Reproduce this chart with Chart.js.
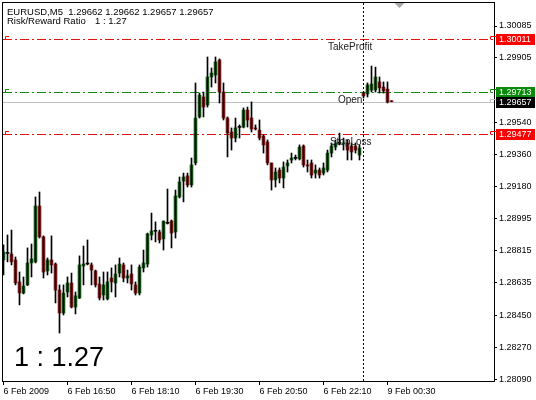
<!DOCTYPE html>
<html><head><meta charset="utf-8">
<script src="https://cdn.jsdelivr.net/npm/chart.js@4/dist/chart.umd.min.js"></script>
<style>html,body{margin:0;padding:0;background:#fff;}#wrap{width:536px;height:400px;position:relative}</style>
</head><body><div id="wrap"><canvas id="c" width="536" height="400"></canvas></div>
<script>
const symbol = 'EURUSD,M5';
const lastQuote = [1.29662, 1.29662, 1.29657, 1.29657];
const ratioLabel = 'Risk/Reward Ratio';
const ratioText = '1 : 1.27';

const openP = [
1.28763,1.28802,1.28797,1.28763,1.28639,1.28576,1.28622,1.28746,1.28752,1.29068,
1.28893,1.28701,1.28763,1.28740,1.28593,1.28463,1.28582,1.28633,1.28497,1.28548,
1.28729,1.28740,1.28735,1.28701,1.28627,1.28565,1.28543,1.28661,1.28633,1.28689,
1.28735,1.28661,1.28684,1.28622,1.28576,1.28718,1.28740,1.28904,1.28927,1.28921,
1.28882,1.28972,1.28983,1.28921,1.29119,1.29209,1.29238,1.29187,1.29311,1.29571,
1.29684,1.29639,1.29797,1.29808,1.29893,1.29712,1.29565,1.29486,1.29452,1.29514,
1.29514,1.29610,1.29565,1.29509,1.29497,1.29463,1.29430,1.29311,1.29215,1.29271,
1.29226,1.29294,1.29328,1.29339,1.29334,1.29407,1.29300,1.29311,1.29254,1.29271,
1.29254,1.29271,1.29367,1.29401,1.29424,1.29418,1.29424,1.29407,1.29407,1.29356,
1.29706,1.29701,1.29723,1.29723,1.29769,1.29740,1.29729,1.29662];
const highP = [
1.28848,1.28904,1.28932,1.28780,1.28695,1.28667,1.28831,1.28853,1.29119,1.29147,
1.28899,1.28774,1.28899,1.28746,1.28622,1.28622,1.28667,1.28689,1.28582,1.28786,
1.28842,1.28876,1.28746,1.28706,1.28667,1.28695,1.28695,1.28718,1.28735,1.28774,
1.28746,1.28706,1.28735,1.28639,1.28735,1.28819,1.28915,1.29028,1.28978,1.28932,
1.28983,1.29164,1.28989,1.29158,1.29232,1.29254,1.29254,1.29339,1.29763,1.29706,
1.29712,1.29910,1.29848,1.29910,1.29899,1.29763,1.29571,1.29509,1.29565,1.29526,
1.29622,1.29627,1.29656,1.29526,1.29554,1.29469,1.29441,1.29311,1.29283,1.29283,
1.29317,1.29328,1.29367,1.29356,1.29413,1.29413,1.29328,1.29328,1.29300,1.29283,
1.29311,1.29384,1.29424,1.29441,1.29480,1.29452,1.29441,1.29424,1.29424,1.29413,
1.29712,1.29763,1.29859,1.29853,1.29797,1.29769,1.29769,1.29662];
const lowP = [
1.28678,1.28752,1.28735,1.28622,1.28509,1.28571,1.28618,1.28667,1.28746,1.28887,
1.28661,1.28678,1.28689,1.28520,1.28350,1.28452,1.28554,1.28492,1.28458,1.28545,
1.28622,1.28735,1.28622,1.28610,1.28537,1.28537,1.28537,1.28582,1.28554,1.28667,
1.28639,1.28633,1.28593,1.28565,1.28565,1.28695,1.28723,1.28876,1.28865,1.28859,
1.28819,1.28966,1.28831,1.28887,1.29113,1.29091,1.29175,1.29175,1.29300,1.29565,
1.29571,1.29627,1.29740,1.29763,1.29650,1.29554,1.29345,1.29384,1.29430,1.29452,
1.29509,1.29514,1.29486,1.29497,1.29441,1.29367,1.29300,1.29158,1.29175,1.29198,
1.29170,1.29260,1.29311,1.29328,1.29328,1.29288,1.29260,1.29226,1.29226,1.29226,
1.29243,1.29260,1.29345,1.29384,1.29413,1.29384,1.29328,1.29328,1.29367,1.29328,
1.29678,1.29684,1.29712,1.29712,1.29706,1.29706,1.29650,1.29657];
const closeP = [
1.28808,1.28800,1.28752,1.28633,1.28576,1.28616,1.28746,1.28769,1.29068,1.28893,
1.28695,1.28763,1.28735,1.28593,1.28463,1.28576,1.28633,1.28497,1.28560,1.28735,
1.28740,1.28742,1.28706,1.28622,1.28548,1.28622,1.28639,1.28639,1.28684,1.28740,
1.28661,1.28673,1.28627,1.28576,1.28723,1.28746,1.28910,1.28927,1.28925,1.28876,
1.28983,1.28970,1.28915,1.29125,1.29204,1.29232,1.29187,1.29300,1.29565,1.29695,
1.29627,1.29797,1.29819,1.29882,1.29712,1.29565,1.29480,1.29452,1.29509,1.29512,
1.29610,1.29554,1.29503,1.29503,1.29452,1.29413,1.29311,1.29215,1.29260,1.29226,
1.29288,1.29311,1.29339,1.29337,1.29401,1.29300,1.29294,1.29243,1.29271,1.29243,
1.29283,1.29367,1.29407,1.29424,1.29422,1.29424,1.29384,1.29373,1.29384,1.29396,
1.29690,1.29752,1.29757,1.29797,1.29735,1.29718,1.29656,1.29657];

const tickIndex = [0, 16, 32, 48, 64, 80, 96];
const tickLabels = ['6 Feb 2009','6 Feb 16:50','6 Feb 18:10','6 Feb 19:30','6 Feb 20:50','6 Feb 22:10','9 Feb 00:30'];
const priceTicks = [1.30085,1.29905,1.29540,1.29360,1.29180,1.28995,1.28815,1.28635,1.28450,1.28270,1.28090];

const takeProfit = 1.30011, openPrice = 1.29713, bidPrice = 1.29657, stopLoss = 1.29477;
const separatorIndex = 90;
const shiftIndex = 99;
const levelLabels = [
  {text:'TakeProfit', k:81.1, price:takeProfit},
  {text:'Open', k:83.6, price:openPrice},
  {text:'StopLoss', k:81.6, price:stopLoss}
];

Chart.defaults.font.family = "'Liberation Sans', Arial, sans-serif";
Chart.defaults.color = '#000';

const idx = openP.map((_, i) => i);
const bodyColor = idx.map(i => Math.abs(closeP[i]-openP[i]) < 0.000025 ? '#000000' : (closeP[i] > openP[i] ? '#1f6e1f' : '#9c2424'));

const levels = [[takeProfit, '#e01212'], [stopLoss, '#e01212'], [openPrice, '#138a13']];

const overlay = {
  id: 'overlay',
  beforeDatasetsDraw(chart) {
    const {ctx, chartArea: a, scales: {x, y}} = chart;
    ctx.save();
    ctx.beginPath(); ctx.rect(a.left, a.top, a.right - a.left, a.bottom - a.top); ctx.clip();
    const hline = (v, col, dash) => {
      const py = Math.round(y.getPixelForValue(v)) + 0.5;
      ctx.strokeStyle = col; ctx.lineWidth = 1; ctx.setLineDash(dash);
      ctx.beginPath(); ctx.moveTo(a.left, py); ctx.lineTo(a.right, py); ctx.stroke();
    };
    hline(bidPrice, '#c0c0c0', []);
    levels.forEach(([v, c]) => hline(v, c, [9, 3, 2, 3]));
    // left-edge markers
    ctx.setLineDash([]);
    levels.forEach(([v, c]) => {
      const py = Math.round(y.getPixelForValue(v));
      ctx.strokeStyle = c; ctx.beginPath();
      ctx.moveTo(a.left + 2.5, py + 0.5); ctx.lineTo(a.left + 2.5, py - 2.5); ctx.lineTo(a.left + 6, py - 2.5); ctx.stroke();
    });
    const sx = Math.floor(x.getPixelForValue(separatorIndex)) + 0.5;
    ctx.strokeStyle = '#000'; ctx.setLineDash([2, 2]);
    ctx.beginPath(); ctx.moveTo(sx, a.top); ctx.lineTo(sx, a.bottom); ctx.stroke();
    ctx.restore();
  },
  afterDraw(chart) {
    const {ctx, chartArea: a, scales: {x, y}} = chart;
    ctx.save();
    ctx.strokeStyle = '#000'; ctx.lineWidth = 1; ctx.setLineDash([]);
    ctx.strokeRect(a.left - 0.5, a.top - 0.5, a.right - a.left + 1, a.bottom - a.top + 1);
    const tx = x.getPixelForValue(shiftIndex);
    ctx.fillStyle = '#a8a8a8';
    ctx.beginPath(); ctx.moveTo(tx - 5, a.top); ctx.lineTo(tx + 5, a.top); ctx.lineTo(tx, a.top + 5); ctx.closePath(); ctx.fill();
    ctx.fillStyle = '#000'; ctx.font = "9.5px 'Liberation Sans', Arial";
    ctx.textBaseline = 'alphabetic'; ctx.textAlign = 'left';
    ctx.fillText(symbol + '  ' + lastQuote.map(v => v.toFixed(5)).join(' '), 7, 15);
    ctx.fillText(ratioLabel, 7, 24);
    ctx.fillText(ratioText, 95, 24);
    ctx.fillStyle = '#222'; ctx.textBaseline = 'top'; ctx.font = "10px 'Liberation Sans', Arial";
    levelLabels.forEach(l => {
      ctx.fillText(l.text, x.getPixelForValue(l.k), Math.round(y.getPixelForValue(l.price)) + 3);
    });
    ctx.fillStyle = '#000'; ctx.font = "27px 'Liberation Sans', Arial"; ctx.textBaseline = 'alphabetic';
    ctx.fillText(ratioText, 14, 366);
    ctx.font = "9px 'Liberation Sans', Arial"; ctx.textBaseline = 'middle';
    [[openPrice, '#0a8a0a'], [bidPrice, '#000000'], [takeProfit, '#ff0000'], [stopLoss, '#ff0000']].forEach(([v, bg]) => {
      const py = Math.round(y.getPixelForValue(v));
      ctx.fillStyle = bg; ctx.fillRect(a.right + 2, py - 5, 39, 11);
      ctx.fillStyle = '#fff'; ctx.fillText(v.toFixed(5), a.right + 5, py + 0.5);
      ctx.strokeStyle = bg === '#000000' ? '#c0c0c0' : bg; ctx.beginPath();
      ctx.moveTo(a.right - 3.5, py + 0.5); ctx.lineTo(a.right - 3.5, py - 2.5); ctx.lineTo(a.right + 2, py - 2.5); ctx.stroke();
    });
    ctx.restore();
  }
};

new Chart(document.getElementById('c'), {
  type: 'bar',
  data: {
    datasets: [
      { label: 'wick', data: idx.map(i => ({x: i, y: [lowP[i], highP[i]]})), backgroundColor: '#000', barThickness: 1, grouped: false, minBarLength: 1, borderWidth: 0 },
      { label: 'body', data: idx.map(i => ({x: i, y: [openP[i], closeP[i]]})), backgroundColor: bodyColor, barThickness: 3, grouped: false, minBarLength: 1, borderWidth: 0 }
    ]
  },
  options: {
    responsive: false, animation: false, events: [],
    layout: { padding: { left: 3, top: 3, right: 0, bottom: 0 } },
    plugins: { legend: { display: false }, tooltip: { enabled: false } },
    scales: {
      x: {
        type: 'linear', offset: false, min: -0.125, max: 122.625,
        grid: { display: true, drawOnChartArea: false, drawTicks: true, tickLength: 4, color: '#000', offset: false },
        border: { display: false },
        afterBuildTicks: s => { s.ticks = tickIndex.map(v => ({value: v})); },
        ticks: { align: 'start', maxRotation: 0, autoSkip: false, padding: 1, font: { size: 9 }, color: '#000',
          callback: (v) => tickLabels[tickIndex.indexOf(v)] },
        afterFit: s => { s.height = 19; s.paddingLeft = 0; s.paddingRight = 0; }
      },
      y: {
        type: 'linear', position: 'right', min: 1.28079, max: 1.30215,
        grid: { display: true, drawOnChartArea: false, drawTicks: true, tickLength: 3, color: '#000' },
        border: { display: false },
        afterBuildTicks: s => { s.ticks = priceTicks.map(v => ({value: v})); },
        ticks: { padding: 2, font: { size: 9 }, color: '#000', autoSkip: false, callback: v => Number(v).toFixed(5) },
        afterFit: s => { s.width = 42; s.paddingTop = 0; s.paddingBottom = 0; }
      }
    }
  },
  plugins: [overlay]
});
</script></body></html>
